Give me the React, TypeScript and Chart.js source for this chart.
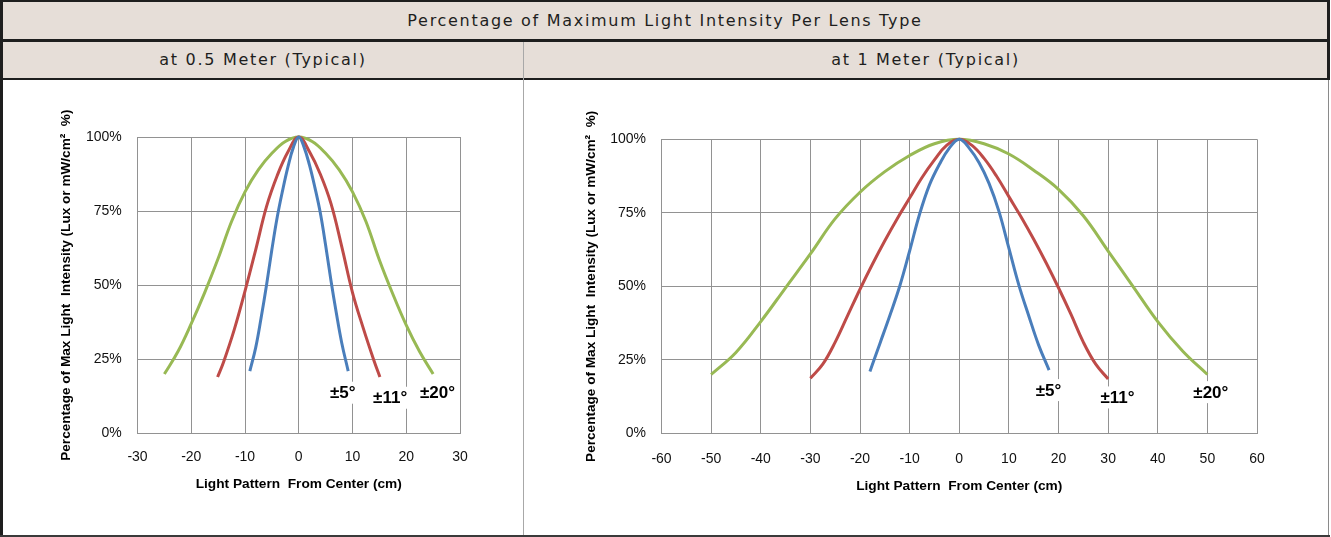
import React, { useEffect, useRef } from "react";
import { Chart, registerables } from "chart.js";

Chart.register(...registerables);

// ---------- text ----------
const TITLE = "Percentage of Maximum Light Intensity Per Lens Type";
const SUBTITLE_05 = "at 0.5 Meter (Typical)";
const SUBTITLE_1 = "at 1 Meter (Typical)";
const X_TITLE = "Light Pattern  From Center (cm)";
const Y_TITLE = "Percentage of Max Light  Intensity (Lux or mW/cm²  %)";
const SERIES_NAMES = ["±5°", "±11°", "±20°"];

// ---------- tick values ----------
const Y_TICKS = [0, 25, 50, 75, 100];
const X_TICKS_05 = [-30, -20, -10, 0, 10, 20, 30];
const X_TICKS_1 = [-60, -50, -40, -30, -20, -10, 0, 10, 20, 30, 40, 50, 60];

// ---------- 0.5 m data ----------
const blue05X = [-9.1, -8, -7, -6, -5, -4, -3, -2, -1, 0, 1, 2, 3, 4, 5, 6, 7, 8, 9.2];
const blue05Y = [21, 29, 39, 50, 62, 73, 82, 90, 96.5, 100, 96.5, 90.5, 83, 74.5, 63.5, 51.5, 40.5, 30.5, 21];

const red05X = [-15.1, -14, -12, -10, -8, -6, -4, -2, 0, 2, 4, 6, 8, 10, 12, 14, 15.1];
const red05Y = [19, 24, 35, 48, 62, 76.5, 87, 95, 100, 95, 87.5, 77.5, 63, 47.5, 35.5, 24.5, 19];

const green05X = [-25, -22.5, -20, -17.5, -15, -12.5, -10, -7.5, -5, -2.5, 0, 2.5, 5, 7.5, 10, 12.5, 15, 17.5, 20, 22.5, 25];
const green05Y = [20, 27.5, 37, 47.5, 59, 71.5, 81.5, 89, 94.5, 98.5, 100, 98.5, 94.5, 89, 81.5, 71.5, 58.5, 47, 36.5, 27.5, 20];

// ---------- 1 m data ----------
const blue1X = [-18, -16, -14, -12, -10, -8, -6, -4, -2, 0, 2, 4, 6, 8, 10, 12, 14, 16, 18.1];
const blue1Y = [21, 30.5, 40, 50, 62, 74.5, 84.5, 91.5, 97, 100, 97, 92, 85, 75.5, 63, 50.5, 40, 30, 21.5];

const red1X = [-30, -27.5, -25, -22.5, -20, -17.5, -15, -12.5, -10, -7.5, -5, -2.5, 0, 2.5, 5, 7.5, 10, 12.5, 15, 17.5, 20, 22.5, 25, 27.5, 30];
const red1Y = [18.7, 23.5, 31, 40, 49, 57.5, 65.5, 73, 80, 87, 93, 98, 100, 98, 93.5, 87.5, 80.5, 73.5, 66, 58, 49.5, 40.5, 31, 23.5, 18.5];

const green1X = [-50, -45, -40, -35, -30, -25, -20, -15, -10, -5, 0, 5, 10, 15, 20, 25, 30, 35, 40, 45, 50];
const green1Y = [20, 27.5, 38, 49.5, 61, 73, 82, 89, 94.5, 98.5, 100, 98.5, 95, 89.5, 83, 74, 62, 50, 38, 28, 20];

// ---------- curve label anchors (data units) ----------
const LABEL_X_05 = [8.2, 17.0, 25.8];
const LABEL_Y_05 = [13.7, 12.0, 13.8];
const LABEL_X_1 = [18.0, 31.9, 50.7];
const LABEL_Y_1 = [14.7, 12.2, 14.0];

// ---------- styling ----------
const COLORS = ["#4A7EBB", "#BE4B48", "#98B954"];
const HEADER_BG = "#E6DED8";
const GRID = "#929292";
const FONT = '"Liberation Sans", Arial, sans-serif';

const labelPlugin = {
  id: "curveLabels",
  afterDatasetsDraw(chart: any, _args: any, opts: any) {
    const { ctx } = chart;
    const xs = chart.scales.x;
    const ys = chart.scales.y;
    ctx.save();
    ctx.font = `bold 17px ${FONT}`;
    ctx.textAlign = "center";
    ctx.textBaseline = "middle";
    (opts.items || []).forEach((it: any) => {
      const px = xs.getPixelForValue(it.x);
      const py = ys.getPixelForValue(it.y);
      const w = ctx.measureText(it.text).width;
      ctx.fillStyle = "#ffffff";
      ctx.fillRect(px - w / 2 - 3, py - 11, w + 6, 22);
      ctx.fillStyle = "#000000";
      ctx.fillText(it.text, px, py + 1);
    });
    ctx.restore();
  },
};

type Cfg = {
  width: number;
  height: number;
  xTicks: number[];
  series: { xs: number[]; ys: number[] }[];
  labelX: number[];
  labelY: number[];
  yWidth: number;
  yTitlePad: number;
  yTickPad: number;
  xHeight: number;
  xTickPad: number;
  padTop: number;
  padRight: number;
  padBottom: number;
};

function LensChart({ cfg, style }: { cfg: Cfg; style: React.CSSProperties }) {
  const ref = useRef<HTMLCanvasElement | null>(null);
  useEffect(() => {
    if (!ref.current) return;
    const chart = new Chart(ref.current, {
      type: "line",
      data: {
        datasets: cfg.series.map((s, i) => ({
          label: SERIES_NAMES[i],
          data: s.xs.map((x, j) => ({ x, y: s.ys[j] })),
          borderColor: COLORS[i],
          backgroundColor: COLORS[i],
          borderWidth: 3,
          pointRadius: 0,
          fill: false,
          tension: 0.4,
          clip: 6,
        })),
      },
      options: {
        animation: false,
        responsive: false,
        events: [],
        layout: {
          padding: { left: 0, top: cfg.padTop, right: cfg.padRight, bottom: cfg.padBottom },
        },
        plugins: {
          legend: { display: false },
          tooltip: { enabled: false },
          curveLabels: {
            items: cfg.labelX.map((x, i) => ({ x, y: cfg.labelY[i], text: SERIES_NAMES[i] })),
          },
        } as any,
        scales: {
          x: {
            type: "linear",
            min: cfg.xTicks[0],
            max: cfg.xTicks[cfg.xTicks.length - 1],
            afterBuildTicks: (scale: any) => {
              scale.ticks = cfg.xTicks.map((v) => ({ value: v }));
            },
            afterFit: (scale: any) => {
              scale.height = cfg.xHeight;
            },
            grid: { color: GRID, lineWidth: 1, drawTicks: false },
            border: { color: GRID, width: 1 },
            ticks: {
              padding: cfg.xTickPad,
              color: "#111",
              font: { family: FONT, size: 14 },
              maxRotation: 0,
              autoSkip: false,
            },
            title: {
              display: true,
              text: X_TITLE,
              color: "#000",
              font: { family: FONT, size: 13.7, weight: "bold" },
              padding: { top: 0, bottom: 0 },
            },
          },
          y: {
            type: "linear",
            min: 0,
            max: 100,
            afterBuildTicks: (scale: any) => {
              scale.ticks = Y_TICKS.map((v) => ({ value: v }));
            },
            afterFit: (scale: any) => {
              scale.width = cfg.yWidth;
            },
            grid: { color: GRID, lineWidth: 1, drawTicks: false },
            border: { color: GRID, width: 1 },
            ticks: {
              padding: cfg.yTickPad,
              color: "#111",
              font: { family: FONT, size: 14 },
              callback: (v: any) => `${v}%`,
            },
            title: {
              display: true,
              text: Y_TITLE,
              color: "#000",
              font: { family: FONT, size: 13.6, weight: "bold" },
              padding: { top: cfg.yTitlePad, bottom: 0 },
            },
          },
        },
      },
      plugins: [labelPlugin as any],
    });
    return () => chart.destroy();
  }, [cfg]);
  return (
    <canvas
      ref={ref}
      width={cfg.width}
      height={cfg.height}
      style={{ position: "absolute", width: cfg.width, height: cfg.height, ...style }}
    />
  );
}

const CFG_05: Cfg = {
  width: 520,
  height: 456,
  xTicks: X_TICKS_05,
  series: [
    { xs: blue05X, ys: blue05Y },
    { xs: red05X, ys: red05Y },
    { xs: green05X, ys: green05Y },
  ],
  labelX: LABEL_X_05,
  labelY: LABEL_Y_05,
  yWidth: 134.5,
  yTitlePad: 55,
  yTickPad: 15.8,
  xHeight: 59.5,
  xTickPad: 15.3,
  padTop: 57,
  padRight: 63,
  padBottom: 43.2,
};

const CFG_1: Cfg = {
  width: 804,
  height: 456,
  xTicks: X_TICKS_1,
  series: [
    { xs: blue1X, ys: blue1Y },
    { xs: red1X, ys: red1Y },
    { xs: green1X, ys: green1Y },
  ],
  labelX: LABEL_X_1,
  labelY: LABEL_Y_1,
  yWidth: 137.5,
  yTitlePad: 59.2,
  yTickPad: 15.5,
  xHeight: 61.5,
  xTickPad: 17,
  padTop: 59.3,
  padRight: 71,
  padBottom: 41.2,
};

const headerText: React.CSSProperties = {
  position: "absolute",
  display: "flex",
  alignItems: "center",
  justifyContent: "center",
  fontFamily: '"DejaVu Sans", Verdana, sans-serif',
  fontSize: 16,
  letterSpacing: "1.7px",
  color: "#1e1e1e",
  whiteSpace: "nowrap",
};

export default function App() {
  const dark = "#1e1e1e";
  return (
    <div
      style={{
        position: "absolute",
        left: 0,
        top: 0,
        width: 1331,
        height: 537,
        background: "#ffffff",
        overflow: "hidden",
      }}
    >
      {/* header backgrounds */}
      <div style={{ position: "absolute", left: 0, top: 0, width: 1330, height: 80, background: HEADER_BG }} />
      {/* header texts */}
      <div style={{ ...headerText, left: 3, top: 2, width: 1324, height: 37 }}>{TITLE}</div>
      <div style={{ ...headerText, left: 3, top: 41, width: 520, height: 37 }}>{SUBTITLE_05}</div>
      <div style={{ ...headerText, left: 524, top: 41, width: 803, height: 37 }}>{SUBTITLE_1}</div>

      {/* charts */}
      <LensChart cfg={CFG_05} style={{ left: 3, top: 80 }} />
      <LensChart cfg={CFG_1} style={{ left: 524, top: 80 }} />

      {/* frame lines */}
      <div style={{ position: "absolute", left: 0, top: 0, width: 1330, height: 2, background: dark }} />
      <div style={{ position: "absolute", left: 0, top: 0, width: 3, height: 537, background: dark }} />
      <div style={{ position: "absolute", left: 0, top: 39, width: 1330, height: 3, background: dark }} />
      <div style={{ position: "absolute", left: 0, top: 78, width: 1330, height: 2, background: dark }} />
      <div style={{ position: "absolute", left: 1327, top: 0, width: 3, height: 80, background: dark }} />
      <div style={{ position: "absolute", left: 1328, top: 80, width: 1, height: 457, background: "#8a8a8a" }} />
      <div style={{ position: "absolute", left: 523, top: 42, width: 1, height: 495, background: "#a8a8a8" }} />
      <div style={{ position: "absolute", left: 0, top: 535, width: 1330, height: 2, background: "#3a3a3a" }} />
    </div>
  );
}
